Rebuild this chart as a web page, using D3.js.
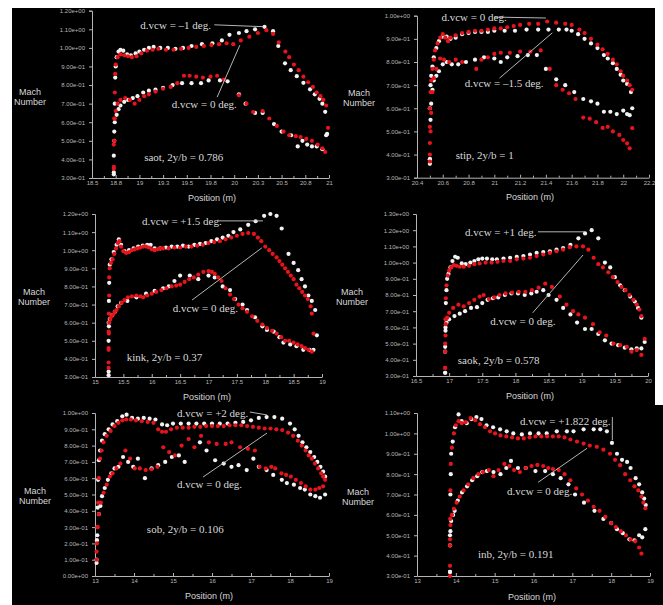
<!DOCTYPE html>
<html>
<head>
<meta charset="utf-8">
<script src="https://cdn.jsdelivr.net/npm/d3@7"></script>
<style>
  body { margin: 0; background: #fff; }
  svg { display: block; }
</style>
</head>
<body>
<svg width="663" height="605"></svg>
<script>
// ---- saot, 2y/b = 0.786 ----
var saotXTicks = [18.5, 18.75, 19, 19.25, 19.5, 19.75, 20, 20.25, 20.5, 20.75, 21];
var saotYTicks = [0.3, 0.4, 0.5, 0.6, 0.7, 0.8, 0.9, 1.0, 1.1, 1.2];
var saotUpW = [[18.73,0.33],[18.73,0.42],[18.735,0.55],[18.74,0.7],[18.745,0.84],[18.75,0.9],[18.76,0.95],[18.78,0.98],[18.8,0.99],[18.83,0.985],[18.87,0.965],[18.91,0.96],[18.96,0.97],[19.0,0.98],[19.05,0.99],[19.1,1.0],[19.15,1.005],[19.22,1.0],[19.3,1.0],[19.38,0.995],[19.46,1.0],[19.55,1.01],[19.66,1.02],[19.77,1.025],[19.87,1.04],[19.95,1.07],[20.05,1.08],[20.13,1.09],[20.22,1.10],[20.32,1.113],[20.41,1.09],[20.465,1.01],[20.536,0.917],[20.596,0.88],[20.66,0.848],[20.73,0.812],[20.8,0.777],[20.85,0.75],[20.9,0.726],[20.93,0.70],[20.96,0.656],[20.98,0.537]];
var saotUpR = [[18.73,0.35],[18.73,0.48],[18.735,0.62],[18.74,0.76],[18.745,0.86],[18.75,0.91],[18.77,0.95],[18.8,0.965],[18.84,0.96],[18.88,0.955],[18.92,0.95],[18.97,0.955],[19.02,0.97],[19.08,0.985],[19.14,0.99],[19.2,0.995],[19.28,0.99],[19.36,0.99],[19.44,0.995],[19.52,1.0],[19.6,1.005],[19.68,1.01],[19.76,1.015],[19.84,1.02],[19.92,1.025],[19.99,1.02],[20.07,1.04],[20.16,1.06],[20.25,1.08],[20.34,1.095],[20.41,1.075],[20.47,1.03],[20.54,0.98],[20.58,0.95],[20.63,0.91],[20.68,0.88],[20.73,0.845],[20.78,0.815],[20.83,0.79],[20.87,0.76],[20.91,0.74],[20.94,0.72],[20.97,0.69],[20.99,0.57]];
var saotLoW = [[18.73,0.32],[18.735,0.5],[18.74,0.6],[18.76,0.64],[18.78,0.67],[18.8,0.69],[18.84,0.71],[18.88,0.72],[18.93,0.73],[18.98,0.74],[19.04,0.76],[19.1,0.77],[19.17,0.775],[19.25,0.785],[19.35,0.8],[19.45,0.81],[19.55,0.81],[19.65,0.81],[19.73,0.825],[19.85,0.825],[19.93,0.82],[20.05,0.75],[20.12,0.7],[20.22,0.65],[20.3,0.65],[20.42,0.59],[20.5,0.55],[20.6,0.53],[20.67,0.47],[20.72,0.5],[20.77,0.48],[20.82,0.47],[20.87,0.47],[20.93,0.455],[20.97,0.53]];
var saotLoR = [[18.73,0.36],[18.735,0.5],[18.74,0.62],[18.75,0.66],[18.77,0.7],[18.8,0.72],[18.85,0.73],[18.9,0.72],[18.95,0.7],[19.0,0.72],[19.05,0.74],[19.1,0.75],[19.17,0.765],[19.25,0.78],[19.33,0.79],[19.4,0.81],[19.47,0.85],[19.53,0.85],[19.6,0.845],[19.67,0.84],[19.75,0.845],[19.82,0.85],[19.89,0.83],[20.05,0.745],[20.13,0.70],[20.2,0.655],[20.3,0.66],[20.37,0.62],[20.45,0.58],[20.52,0.55],[20.58,0.53],[20.65,0.525],[20.7,0.52],[20.76,0.51],[20.82,0.5],[20.88,0.48],[20.93,0.46],[20.96,0.44]];

// ---- stip, 2y/b = 1 ----
var stipXTicks = [20.4, 20.6, 20.8, 21, 21.2, 21.4, 21.6, 21.8, 22, 22.2];
var stipYTicks = [0.3, 0.4, 0.5, 0.6, 0.7, 0.8, 0.9, 1.0];
var stipUpW = [[20.5,0.36],[20.5,0.38],[20.5,0.6],[20.505,0.7],[20.51,0.74],[20.52,0.78],[20.53,0.82],[20.55,0.86],[20.57,0.89],[20.6,0.91],[20.63,0.91],[20.66,0.9],[20.7,0.905],[20.75,0.92],[20.8,0.925],[20.85,0.93],[20.9,0.93],[20.95,0.93],[21.0,0.935],[21.08,0.935],[21.16,0.935],[21.25,0.94],[21.34,0.94],[21.42,0.94],[21.5,0.94],[21.56,0.94],[21.6,0.935],[21.65,0.92],[21.7,0.9],[21.75,0.88],[21.8,0.86],[21.85,0.83],[21.88,0.815],[21.92,0.795],[21.95,0.77],[21.98,0.745],[22.0,0.72],[22.03,0.705],[22.06,0.67]];
var stipUpR = [[20.5,0.37],[20.5,0.45],[20.5,0.52],[20.5,0.6],[20.505,0.67],[20.51,0.72],[20.52,0.77],[20.53,0.81],[20.54,0.85],[20.56,0.88],[20.58,0.905],[20.6,0.92],[20.62,0.905],[20.64,0.89],[20.66,0.905],[20.7,0.915],[20.75,0.925],[20.8,0.93],[20.85,0.935],[20.9,0.935],[20.95,0.94],[21.0,0.945],[21.05,0.945],[21.1,0.95],[21.15,0.955],[21.2,0.96],[21.27,0.965],[21.34,0.965],[21.41,0.975],[21.48,0.97],[21.55,0.965],[21.6,0.96],[21.66,0.94],[21.7,0.925],[21.75,0.9],[21.8,0.875],[21.84,0.855],[21.88,0.835],[21.92,0.81],[21.95,0.79],[21.98,0.76],[22.0,0.74],[22.03,0.72],[22.05,0.70],[22.07,0.68]];
var stipLoW = [[20.5,0.38],[20.505,0.55],[20.51,0.62],[20.52,0.68],[20.53,0.72],[20.55,0.74],[20.57,0.76],[20.6,0.79],[20.63,0.8],[20.67,0.79],[20.72,0.79],[20.78,0.8],[20.85,0.81],[20.92,0.82],[21.0,0.815],[21.05,0.8],[21.1,0.82],[21.18,0.825],[21.26,0.83],[21.33,0.83],[21.4,0.77],[21.48,0.725],[21.55,0.70],[21.62,0.67],[21.69,0.64],[21.75,0.63],[21.8,0.62],[21.85,0.585],[21.9,0.585],[21.95,0.575],[22.0,0.59],[22.03,0.575],[22.05,0.57],[22.07,0.6]];
var stipLoR = [[20.5,0.4],[20.505,0.5],[20.51,0.58],[20.52,0.67],[20.53,0.73],[20.55,0.77],[20.58,0.815],[20.61,0.81],[20.65,0.8],[20.7,0.81],[20.75,0.8],[20.86,0.77],[20.9,0.81],[20.95,0.82],[21.0,0.835],[21.05,0.84],[21.12,0.84],[21.2,0.845],[21.28,0.845],[21.36,0.85],[21.43,0.77],[21.48,0.7],[21.53,0.68],[21.58,0.665],[21.63,0.64],[21.69,0.56],[21.74,0.555],[21.79,0.54],[21.84,0.515],[21.88,0.52],[21.92,0.5],[21.97,0.485],[22.0,0.463],[22.03,0.448],[22.05,0.427],[22.07,0.514]];

// ---- kink, 2y/b = 0.37 ----
var kinkXTicks = [15, 15.5, 16, 16.5, 17, 17.5, 18, 18.5, 19];
var kinkYTicks = [0.3, 0.4, 0.5, 0.6, 0.7, 0.8, 0.9, 1.0, 1.1, 1.2];
var kinkUpW = [[15.24,0.33],[15.24,0.6],[15.245,0.72],[15.25,0.82],[15.26,0.92],[15.29,0.95],[15.33,0.99],[15.38,1.03],[15.42,1.06],[15.46,1.03],[15.52,0.995],[15.6,1.0],[15.68,1.01],[15.76,1.02],[15.84,1.025],[15.92,1.03],[15.98,1.03],[16.05,1.01],[16.15,1.01],[16.25,1.015],[16.35,1.02],[16.45,1.02],[16.55,1.025],[16.65,1.02],[16.75,1.03],[16.85,1.035],[16.95,1.04],[17.05,1.05],[17.15,1.06],[17.25,1.07],[17.35,1.08],[17.44,1.1],[17.56,1.115],[17.7,1.14],[17.83,1.16],[17.98,1.19],[18.09,1.2],[18.2,1.19],[18.29,1.12],[18.41,0.98],[18.5,0.93],[18.58,0.89],[18.64,0.84],[18.7,0.80],[18.76,0.75],[18.82,0.72],[18.88,0.67]];
var kinkUpR = [[15.24,0.35],[15.24,0.45],[15.24,0.55],[15.245,0.65],[15.25,0.75],[15.25,0.85],[15.26,0.9],[15.28,0.93],[15.31,0.95],[15.34,0.98],[15.37,1.01],[15.4,1.04],[15.43,1.05],[15.46,1.02],[15.5,0.995],[15.55,0.985],[15.6,0.99],[15.65,1.0],[15.7,1.005],[15.75,1.01],[15.8,1.015],[15.85,1.02],[15.9,1.02],[15.95,1.015],[16.0,1.005],[16.05,1.0],[16.1,1.005],[16.15,1.01],[16.2,1.01],[16.3,1.01],[16.4,1.015],[16.5,1.015],[16.6,1.02],[16.7,1.02],[16.8,1.025],[16.9,1.03],[17.0,1.04],[17.1,1.045],[17.2,1.05],[17.3,1.06],[17.4,1.07],[17.5,1.08],[17.6,1.09],[17.7,1.095],[17.8,1.09],[17.87,1.07],[17.93,1.05],[18.0,1.02],[18.07,1.0],[18.13,0.98],[18.2,0.96],[18.25,0.94],[18.3,0.92],[18.35,0.9],[18.4,0.88],[18.45,0.86],[18.5,0.84],[18.55,0.81],[18.6,0.79],[18.65,0.77],[18.7,0.75],[18.75,0.73],[18.8,0.69],[18.82,0.65]];
var kinkLoW = [[15.24,0.31],[15.24,0.5],[15.245,0.58],[15.26,0.62],[15.3,0.64],[15.35,0.66],[15.4,0.69],[15.46,0.71],[15.57,0.72],[15.73,0.74],[15.9,0.76],[16.05,0.775],[16.2,0.79],[16.3,0.8],[16.4,0.83],[16.5,0.86],[16.67,0.86],[16.82,0.84],[17.0,0.86],[17.11,0.85],[17.25,0.8],[17.38,0.78],[17.47,0.73],[17.6,0.7],[17.68,0.67],[17.82,0.63],[17.95,0.58],[18.03,0.56],[18.15,0.55],[18.25,0.52],[18.32,0.49],[18.44,0.48],[18.55,0.47],[18.67,0.45],[18.78,0.45],[18.85,0.45],[18.91,0.53]];
var kinkLoR = [[15.24,0.38],[15.24,0.46],[15.245,0.54],[15.25,0.6],[15.27,0.62],[15.29,0.635],[15.32,0.645],[15.35,0.66],[15.38,0.67],[15.42,0.69],[15.47,0.71],[15.52,0.725],[15.58,0.74],[15.65,0.745],[15.73,0.75],[15.8,0.745],[15.85,0.74],[15.92,0.75],[16.0,0.76],[16.08,0.77],[16.17,0.78],[16.26,0.79],[16.35,0.8],[16.43,0.805],[16.5,0.81],[16.58,0.825],[16.66,0.84],[16.74,0.85],[16.82,0.865],[16.91,0.88],[17.0,0.885],[17.06,0.88],[17.11,0.87],[17.17,0.85],[17.23,0.83],[17.3,0.79],[17.38,0.755],[17.45,0.73],[17.53,0.70],[17.6,0.68],[17.68,0.66],[17.77,0.635],[17.86,0.61],[17.95,0.59],[18.03,0.57],[18.12,0.555],[18.2,0.54],[18.28,0.52],[18.35,0.50],[18.42,0.5],[18.5,0.49],[18.57,0.48],[18.64,0.47],[18.7,0.46],[18.76,0.45],[18.82,0.44],[18.85,0.54]];

// ---- saok, 2y/b = 0.578 ----
var saokXTicks = [16.5, 17, 17.5, 18, 18.5, 19, 19.5, 20];
var saokYTicks = [0.3, 0.4, 0.5, 0.6, 0.7, 0.8, 0.9, 1.0, 1.1, 1.2, 1.3];
var saokUpW = [[16.94,0.32],[16.94,0.45],[16.945,0.6],[16.95,0.75],[16.96,0.83],[16.97,0.9],[16.99,0.93],[17.02,0.97],[17.05,1.01],[17.09,1.036],[17.13,1.03],[17.19,0.995],[17.25,0.99],[17.32,1.0],[17.38,1.01],[17.44,1.02],[17.5,1.025],[17.57,1.025],[17.65,1.02],[17.72,1.02],[17.82,1.025],[17.92,1.03],[18.02,1.035],[18.12,1.04],[18.22,1.05],[18.32,1.06],[18.42,1.065],[18.52,1.07],[18.62,1.08],[18.72,1.09],[18.83,1.11],[18.95,1.15],[19.05,1.18],[19.15,1.2],[19.25,1.15],[19.35,1.0],[19.43,0.97],[19.5,0.91],[19.58,0.86],[19.65,0.83],[19.73,0.79],[19.8,0.76],[19.85,0.72],[19.9,0.66]];
var saokUpR = [[16.94,0.35],[16.94,0.5],[16.945,0.65],[16.95,0.78],[16.96,0.86],[16.98,0.92],[17.0,0.95],[17.03,0.97],[17.07,0.985],[17.11,0.98],[17.16,0.975],[17.22,0.975],[17.3,0.98],[17.38,0.99],[17.46,0.995],[17.55,1.0],[17.64,1.0],[17.73,1.005],[17.82,1.01],[17.92,1.01],[18.02,1.02],[18.12,1.025],[18.22,1.03],[18.32,1.04],[18.42,1.05],[18.52,1.06],[18.62,1.07],[18.72,1.08],[18.82,1.095],[18.92,1.1],[19.02,1.1],[19.1,1.08],[19.18,1.03],[19.25,0.99],[19.32,0.97],[19.4,0.94],[19.47,0.91],[19.54,0.88],[19.6,0.85],[19.66,0.83],[19.72,0.8],[19.78,0.77],[19.83,0.74],[19.87,0.71],[19.9,0.67]];
var saokLoW = [[16.94,0.32],[16.94,0.48],[16.945,0.58],[16.96,0.63],[17.0,0.65],[17.08,0.67],[17.16,0.685],[17.24,0.7],[17.33,0.72],[17.42,0.725],[17.5,0.75],[17.58,0.77],[17.66,0.78],[17.74,0.785],[17.84,0.8],[17.94,0.81],[18.04,0.81],[18.14,0.8],[18.24,0.81],[18.32,0.82],[18.42,0.83],[18.5,0.8],[18.62,0.77],[18.72,0.72],[18.83,0.68],[18.93,0.63],[19.05,0.59],[19.15,0.59],[19.25,0.56],[19.35,0.52],[19.45,0.5],[19.55,0.49],[19.65,0.475],[19.75,0.465],[19.83,0.47],[19.9,0.47],[19.95,0.51]];
var saokLoR = [[16.94,0.35],[16.94,0.45],[16.945,0.55],[16.95,0.62],[16.97,0.66],[17.0,0.69],[17.06,0.72],[17.14,0.74],[17.22,0.73],[17.3,0.75],[17.38,0.77],[17.46,0.79],[17.52,0.8],[17.6,0.775],[17.68,0.785],[17.76,0.8],[17.85,0.81],[17.95,0.815],[18.05,0.82],[18.15,0.82],[18.25,0.83],[18.35,0.845],[18.45,0.87],[18.55,0.85],[18.67,0.79],[18.77,0.74],[18.87,0.7],[18.95,0.68],[19.05,0.66],[19.17,0.62],[19.27,0.57],[19.37,0.55],[19.48,0.5],[19.58,0.49],[19.68,0.48],[19.75,0.45],[19.83,0.46],[19.9,0.43],[19.95,0.53]];

// ---- sob, 2y/b = 0.106 ----
var sobXTicks = [13, 14, 15, 16, 17, 18, 19];
var sobYTicks = [0, 0.1, 0.2, 0.3, 0.4, 0.5, 0.6, 0.7, 0.8, 0.9, 1.0];
var sobUpW = [[13.04,0.08],[13.05,0.22],[13.07,0.42],[13.08,0.59],[13.1,0.71],[13.13,0.77],[13.18,0.83],[13.25,0.87],[13.35,0.9],[13.45,0.93],[13.57,0.95],[13.7,0.98],[13.81,0.99],[13.95,0.97],[14.1,0.965],[14.25,0.97],[14.4,0.965],[14.55,0.96],[14.72,0.93],[14.85,0.925],[15.0,0.935],[15.2,0.935],[15.4,0.935],[15.6,0.935],[15.8,0.935],[16.0,0.935],[16.2,0.935],[16.4,0.935],[16.6,0.94],[16.8,0.945],[17.0,0.955],[17.2,0.97],[17.4,0.975],[17.6,0.975],[17.8,0.965],[18.0,0.935],[18.12,0.9],[18.22,0.86],[18.32,0.82],[18.42,0.79],[18.52,0.76],[18.62,0.73],[18.7,0.7],[18.78,0.67],[18.85,0.64],[18.9,0.61]];
var sobUpR = [[13.04,0.1],[13.05,0.2],[13.06,0.3],[13.08,0.45],[13.1,0.6],[13.13,0.72],[13.17,0.77],[13.22,0.82],[13.3,0.86],[13.4,0.89],[13.5,0.92],[13.6,0.94],[13.7,0.955],[13.8,0.96],[13.92,0.96],[14.05,0.955],[14.2,0.95],[14.35,0.945],[14.5,0.94],[14.62,0.9],[14.72,0.885],[14.82,0.885],[14.95,0.9],[15.1,0.91],[15.25,0.91],[15.4,0.91],[15.55,0.915],[15.7,0.915],[15.85,0.92],[16.0,0.92],[16.15,0.92],[16.3,0.92],[16.45,0.925],[16.6,0.925],[16.75,0.925],[16.9,0.92],[17.05,0.915],[17.2,0.91],[17.35,0.905],[17.5,0.905],[17.65,0.9],[17.8,0.895],[17.95,0.88],[18.08,0.86],[18.2,0.83],[18.3,0.8],[18.4,0.77],[18.48,0.74],[18.56,0.72],[18.64,0.69],[18.72,0.66],[18.8,0.63],[18.85,0.61],[18.9,0.59]];
var sobLoW = [[13.04,0.1],[13.06,0.25],[13.1,0.38],[13.14,0.43],[13.18,0.49],[13.25,0.54],[13.33,0.59],[13.42,0.63],[13.5,0.66],[13.6,0.67],[13.72,0.73],[13.85,0.7],[13.98,0.67],[14.1,0.72],[14.28,0.6],[14.45,0.66],[14.62,0.68],[14.8,0.7],[14.97,0.73],[15.15,0.74],[15.3,0.7],[15.69,0.82],[15.86,0.77],[16.08,0.71],[16.3,0.69],[16.5,0.67],[16.68,0.68],[16.89,0.65],[17.06,0.72],[17.2,0.67],[17.4,0.65],[17.57,0.62],[17.79,0.59],[17.92,0.57],[18.1,0.56],[18.26,0.54],[18.38,0.53],[18.52,0.5],[18.65,0.49],[18.77,0.48],[18.9,0.5]];
var sobLoR = [[13.04,0.15],[13.07,0.3],[13.1,0.38],[13.15,0.45],[13.22,0.51],[13.3,0.56],[13.38,0.61],[13.45,0.63],[13.55,0.66],[13.65,0.69],[13.78,0.77],[13.9,0.72],[14.02,0.66],[14.15,0.66],[14.3,0.65],[14.45,0.655],[14.6,0.67],[14.75,0.79],[14.9,0.76],[15.05,0.74],[15.22,0.8],[15.4,0.84],[15.55,0.79],[15.72,0.86],[15.92,0.82],[16.12,0.81],[16.35,0.81],[16.5,0.82],[16.72,0.79],[16.92,0.78],[17.1,0.77],[17.22,0.67],[17.38,0.66],[17.52,0.67],[17.62,0.66],[17.78,0.63],[17.9,0.62],[18.02,0.61],[18.15,0.59],[18.28,0.57],[18.4,0.55],[18.52,0.53],[18.65,0.53],[18.75,0.54],[18.85,0.55]];

// ---- inb, 2y/b = 0.191 ----
var inbXTicks = [13, 14, 15, 16, 17, 18, 19];
var inbYTicks = [0.3, 0.4, 0.5, 0.6, 0.7, 0.8, 0.9, 1.0, 1.1];
var inbUpW = [[13.85,0.32],[13.85,0.5],[13.86,0.7],[13.87,0.8],[13.88,0.9],[13.92,0.96],[13.98,1.03],[14.07,1.093],[14.15,1.06],[14.28,1.05],[14.4,1.07],[14.53,1.08],[14.66,1.07],[14.79,1.04],[14.96,1.03],[15.14,1.02],[15.31,1.01],[15.48,1.0],[15.7,0.995],[15.91,1.0],[16.13,1.0],[16.34,1.0],[16.6,1.01],[16.86,1.01],[17.03,1.01],[17.29,1.02],[17.55,1.02],[17.72,1.02],[17.89,1.01],[18.02,0.953],[18.15,0.9],[18.28,0.87],[18.41,0.86],[18.5,0.83],[18.63,0.78],[18.72,0.75],[18.8,0.71],[18.85,0.68],[18.89,0.648]];
var inbUpR = [[13.85,0.3],[13.85,0.45],[13.855,0.58],[13.86,0.72],[13.87,0.85],[13.9,0.93],[13.95,1.0],[14.0,1.04],[14.07,1.06],[14.15,1.05],[14.25,1.055],[14.38,1.075],[14.5,1.065],[14.62,1.045],[14.75,1.03],[14.88,1.01],[15.01,1.0],[15.15,0.99],[15.3,0.985],[15.45,0.98],[15.6,0.975],[15.75,0.975],[15.9,0.98],[16.05,0.985],[16.2,0.985],[16.35,0.985],[16.5,0.985],[16.65,0.985],[16.8,0.98],[16.95,0.97],[17.12,0.96],[17.29,0.95],[17.45,0.94],[17.63,0.934],[17.8,0.92],[17.97,0.9],[18.1,0.87],[18.23,0.844],[18.36,0.8],[18.49,0.77],[18.6,0.74],[18.7,0.72],[18.78,0.69],[18.83,0.66],[18.88,0.632]];
var inbLoW = [[13.85,0.32],[13.85,0.45],[13.86,0.52],[13.88,0.57],[13.93,0.6],[13.97,0.62],[14.05,0.67],[14.16,0.71],[14.29,0.74],[14.42,0.77],[14.55,0.79],[14.68,0.81],[14.8,0.815],[14.97,0.81],[15.15,0.8],[15.3,0.83],[15.42,0.865],[15.6,0.83],[15.8,0.83],[16.05,0.815],[16.3,0.815],[16.5,0.8],[16.7,0.78],[16.9,0.75],[17.07,0.7],[17.3,0.66],[17.57,0.62],[17.8,0.58],[18.0,0.56],[18.15,0.53],[18.3,0.51],[18.47,0.48],[18.6,0.475],[18.72,0.5],[18.8,0.49],[18.88,0.53]];
var inbLoR = [[13.85,0.35],[13.85,0.48],[13.86,0.55],[13.9,0.6],[13.95,0.63],[14.02,0.66],[14.1,0.69],[14.2,0.72],[14.32,0.75],[14.45,0.78],[14.58,0.8],[14.7,0.81],[14.85,0.82],[14.97,0.79],[15.1,0.82],[15.25,0.85],[15.38,0.84],[15.5,0.82],[15.65,0.81],[15.8,0.83],[15.95,0.84],[16.1,0.845],[16.25,0.84],[16.38,0.83],[16.5,0.825],[16.65,0.82],[16.8,0.8],[16.95,0.77],[17.1,0.73],[17.25,0.7],[17.4,0.67],[17.55,0.64],[17.7,0.62],[17.85,0.59],[18.0,0.56],[18.12,0.54],[18.25,0.52],[18.38,0.5],[18.5,0.48],[18.62,0.47],[18.72,0.44],[18.78,0.41]];

var WHITE = '#f2f2f2', RED = '#e8141c', INK = '#d8d8d8', AXIS = '#b4b4b4';

// panel layout (pixel boxes) and annotations placed in data units
var panels = [
  { xDomain:[18.5,21], yDomain:[0.3,1.2], xRange:[92,329], yRange:[178,10.7],
    xTicks:saotXTicks, yTicks:saotYTicks, minor:0.125,
    white:[saotUpW, saotLoW], red:[saotUpR, saotLoR],
    mach:[30,95], pos:[212,201],
    notes:[
      {t:'d.vcw = \u20131 deg.', x:19.01, y:1.10, line:[[19.79,1.124],[20.31,1.114]]},
      {t:'d.vcw = 0 deg.', x:19.34, y:0.676, line:[[19.82,0.735],[20.06,1.015]]},
      {t:'saot, 2y/b = 0.786', x:19.05, y:0.39}
    ]},
  { xDomain:[20.4,22.2], yDomain:[0.3,1.0], xRange:[417,649], yRange:[177.7,15.7],
    xTicks:stipXTicks, yTicks:stipYTicks, minor:0.1,
    white:[stipUpW, stipLoW], red:[stipUpR, stipLoR],
    mach:[359,96], pos:[530,200],
    notes:[
      {t:'d.vcw = 0 deg.', x:20.59, y:0.978, line:[[21.0,0.994],[21.4,0.99]]},
      {t:'d.vcw = \u20131.5 deg.', x:20.77, y:0.693, line:[[21.04,0.73],[21.45,0.926]]},
      {t:'stip, 2y/b = 1', x:20.70, y:0.38}
    ]},
  { xDomain:[15,19], yDomain:[0.3,1.2], xRange:[95,322], yRange:[377,214],
    xTicks:kinkXTicks, yTicks:kinkYTicks, minor:0.25,
    white:[kinkUpW, kinkLoW], red:[kinkUpR, kinkLoR],
    mach:[34,295], pos:[207,400],
    notes:[
      {t:'d.vcw = +1.5 deg.', x:15.83, y:1.14, line:[[17.17,1.162],[17.96,1.162]]},
      {t:'d.vcw = 0 deg.', x:16.37, y:0.66, line:[[16.71,0.725],[17.94,1.013]]},
      {t:'kink, 2y/b = 0.37', x:15.56, y:0.39}
    ]},
  { xDomain:[16.5,20], yDomain:[0.3,1.3], xRange:[416,648], yRange:[376,214],
    xTicks:saokXTicks, yTicks:saokYTicks, minor:0.25,
    white:[saokUpW, saokLoW], red:[saokUpR, saokLoR],
    mach:[352,295], pos:[530,399],
    notes:[
      {t:'d.vcw = +1 deg.', x:17.24, y:1.164, line:[[18.34,1.19],[19.05,1.19]]},
      {t:'d.vcw = 0 deg.', x:17.62, y:0.615, line:[[18.26,0.69],[19.02,1.047]]},
      {t:'saok, 2y/b = 0.578', x:17.13, y:0.374}
    ]},
  { xDomain:[13,19], yDomain:[0,1.0], xRange:[95,329], yRange:[576,413],
    xTicks:sobXTicks, yTicks:sobYTicks, minor:0.5,
    white:[sobUpW, sobLoW], red:[sobUpR, sobLoR],
    mach:[35,494], pos:[209,599],
    notes:[
      {t:'d.vcw = +2 deg.', x:15.1, y:0.975, line:[[16.97,1.006],[17.41,0.988]]},
      {t:'d.vcw = 0 deg.', x:15.1, y:0.54, line:[[15.77,0.607],[17.41,0.877]]},
      {t:'sob, 2y/b = 0.106', x:14.33, y:0.264}
    ]},
  { xDomain:[13,19], yDomain:[0.3,1.1], xRange:[417,650], yRange:[576,413],
    xTicks:inbXTicks, yTicks:inbYTicks, minor:0.5,
    white:[inbUpW, inbLoW], red:[inbUpR, inbLoR],
    mach:[358,495], pos:[532,600],
    notes:[
      {t:'d.vcw = +1.822 deg.', x:15.65, y:1.04, line:[[18.03,1.08],[18.03,0.967]]},
      {t:'d.vcw = 0 deg.', x:15.32, y:0.70, line:[[16.12,0.76],[17.38,0.927]]},
      {t:'inb, 2y/b = 0.191', x:14.57, y:0.388}
    ]}
];

function fmtE(v) {
  var p = v.toExponential(2).split('e');
  var ex = +p[1];
  return p[0] + 'e' + (ex < 0 ? '-' : '+') + (Math.abs(ex) < 10 ? '0' : '') + Math.abs(ex);
}
function fmtX(v) { return String(+v.toFixed(1)); }

var svg = d3.select('svg');
svg.append('rect').attr('x',12).attr('y',8).attr('width',643).attr('height',597).attr('fill','#000');
svg.append('rect').attr('x',655).attr('y',405).attr('width',8).attr('height',200).attr('fill','#000');

panels.forEach(function(p) {
  var x = d3.scaleLinear().domain(p.xDomain).range(p.xRange);
  var y = d3.scaleLinear().domain(p.yDomain).range(p.yRange);
  var g = svg.append('g');

  // minor ticks on the x axis (between labels)
  var minorVals = p.xTicks.slice(0, -1).map(function(v) { return v + p.minor; });
  g.append('g')
   .attr('transform','translate(0,' + p.yRange[0] + ')')
   .call(d3.axisBottom(x).tickValues(minorVals).tickFormat('').tickSizeInner(-2).tickSizeOuter(0))
   .call(function(a) { a.select('.domain').remove(); a.selectAll('line').attr('stroke', AXIS); });

  var xa = g.append('g')
            .attr('transform','translate(0,' + p.yRange[0] + ')')
            .call(d3.axisBottom(x).tickValues(p.xTicks).tickFormat(fmtX)
                    .tickSizeInner(-3).tickSizeOuter(0).tickPadding(3));
  var ya = g.append('g')
            .attr('transform','translate(' + p.xRange[0] + ',0)')
            .call(d3.axisLeft(y).tickValues(p.yTicks).tickFormat(fmtE)
                    .tickSize(3).tickPadding(4));
  [xa, ya].forEach(function(a) {
    a.select('.domain').attr('stroke', AXIS);
    a.selectAll('line').attr('stroke', AXIS);
    a.selectAll('text').attr('fill', '#b8b8b8')
     .attr('font-size', '6px').attr('font-family', 'Liberation Sans, Arial, sans-serif');
  });

  // titles
  var mach = g.append('text')
              .attr('x', p.mach[0]).attr('y', p.mach[1])
              .attr('text-anchor','middle')
              .attr('fill', INK)
              .attr('font-size','9px')
              .attr('font-family','Liberation Sans, Arial, sans-serif');
  mach.append('tspan').attr('x', p.mach[0]).attr('dy', 0).text('Mach');
  mach.append('tspan').attr('x', p.mach[0]).attr('dy', 10).text('Number');
  g.append('text')
   .attr('x', p.pos[0]).attr('y', p.pos[1])
   .attr('text-anchor','middle')
   .attr('fill', INK)
   .attr('font-size','9px')
   .attr('font-family','Liberation Sans, Arial, sans-serif')
   .text('Position (m)');

  // points: white series first, red drawn over
  p.white.forEach(function(s) {
    g.append('g').selectAll('circle').data(s).join('circle')
     .attr('cx', function(d) { return x(d[0]); })
     .attr('cy', function(d) { return y(d[1]); })
     .attr('r', 2.1)
     .attr('fill', WHITE);
  });
  p.red.forEach(function(s) {
    g.append('g').selectAll('circle').data(s).join('circle')
     .attr('cx', function(d) { return x(d[0]); })
     .attr('cy', function(d) { return y(d[1]); })
     .attr('r', 2.1)
     .attr('fill', RED);
  });

  // annotations
  p.notes.forEach(function(n) {
    if (n.line) {
      g.append('line')
       .attr('x1', x(n.line[0][0])).attr('y1', y(n.line[0][1]))
       .attr('x2', x(n.line[1][0])).attr('y2', y(n.line[1][1]))
       .attr('stroke', '#c8c8c8').attr('stroke-width', 0.9);
    }
    g.append('text')
     .attr('x', x(n.x)).attr('y', y(n.y))
     .attr('fill', INK)
     .attr('font-size', '11px')
     .attr('font-family', 'Liberation Serif, Times New Roman, serif')
     .text(n.t);
  });
});
</script>
</body>
</html>
